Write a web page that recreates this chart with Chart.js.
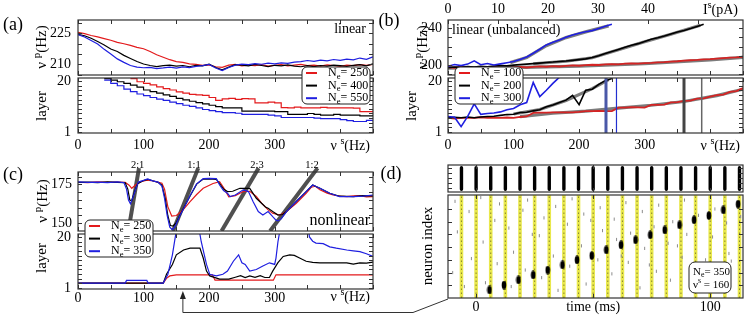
<!DOCTYPE html>
<html>
<head>
<meta charset="utf-8">
<script src="https://cdn.jsdelivr.net/npm/chart.js@4.4.1/dist/chart.umd.min.js"></script>
<style>
  html, body { margin: 0; padding: 0; background: #fff; }
  #fig { position: relative; width: 748px; height: 320px; overflow: hidden; }
  #fig canvas { position: absolute; left: 0; top: 0; }
</style>
</head>
<body>
<div id="fig"></div>
<script>
// ---- data ----
const hzGrid = [0,10,20,30,40,50,60,70,80,90,100,110,120,130,140,150,160,170,180,190,200,210,220,230,240,250,260,270,280,290,300,310,320,330,340,350,360,370,380,390,400,410,420,430,440,450];

// (a) linear
const aNe = [250, 400, 550];
const aRed = [225.4,224.8,223.9,223.2,222.4,221.6,220.6,219.9,219.1,218.2,217.5,216.2,214.6,213.4,212.2,211.3,210.9,210.2,209.9,209.5,209.7,208.8,208.5,209.6,209.9,209.2,209.6,209.3,209.8,209.1,209.5,209.8,209.2,209.6,209.9,209.3,209.6,209.1,209.7,209.4,209.0,209.6,209.3,209.8,209.5,209.9];
const aBlack = [224.5,223.8,222.6,221.0,219.3,217.4,216.2,214.3,212.8,211.3,210.1,209.4,208.9,209.3,209.6,209.1,209.4,208.8,209.5,209.2,210.0,208.4,207.3,208.6,209.8,209.6,209.2,209.9,209.4,208.9,209.5,209.2,209.7,209.1,208.8,209.3,208.9,209.4,209.1,209.6,209.3,209.0,209.5,209.8,209.2,210.2];
const aBlue = [224.3,223.2,221.5,219.8,217.2,215.0,212.6,210.9,209.4,208.6,208.3,208.5,207.9,208.2,208.6,208.1,208.7,208.4,209.0,209.3,209.9,208.2,206.9,208.4,209.6,210.1,209.8,210.3,210.0,210.5,210.2,210.7,210.4,211.0,211.3,211.8,211.4,212.0,211.6,212.3,211.9,212.5,212.1,213.0,212.4,213.6];
const aRedL = [null,null,null,null,null,null,null,null,21.0,19.8,19.2,18.6,17.9,17.2,16.7,16.0,15.5,15.1,14.9,14.7,13.9,12.8,13.4,13.6,13.2,13.5,13.4,11.9,11.9,12.2,11.9,10.1,10.0,10.3,10.0,10.0,10.0,10.2,10.0,10.0,10.0,10.0,9.9,8.6,8.6,8.9];
const aBlackL = [null,null,null,null,21.0,20.4,19.8,19.2,18.5,17.8,16.7,16.1,15.5,14.9,14.3,13.6,13.0,12.5,12.0,11.5,11.0,10.5,10.0,10.0,10.0,8.8,8.8,8.8,8.8,8.8,8.6,8.6,7.6,7.6,7.6,7.9,7.6,7.3,7.3,7.6,7.3,7.3,7.3,7.0,7.0,7.3];
const aBlueL = [null,null,null,null,20.4,19.2,18.3,17.0,16.1,15.2,14.6,13.9,13.3,12.8,12.2,11.6,11.0,10.6,10.0,9.4,9.0,8.6,8.2,8.2,8.0,7.6,7.6,7.6,7.6,7.3,7.0,6.4,6.4,6.4,6.4,6.4,6.2,6.0,6.0,6.0,5.6,5.2,4.9,4.9,5.3,5.0];

// (b) linear (unbalanced)
const bNe = [100, 200, 300];
const bRed = [197.5,196.8,197.9,197.2,196.6,197.4,196.9,197.5,197.0,196.7,197.3,197.8,197.2,197.9,198.3,198.0,198.6,198.3,199.0,199.4,199.1,199.8,200.2,199.9,200.5,200.9,200.7,201.3,201.6,201.4,202.0,202.3,202.8,203.1,203.7,204.0,204.6,205.1,205.4,206.0,206.3,206.9,207.4,207.9,208.3,208.9];
const bBlack = [197.0,197.8,197.3,198.1,197.6,198.4,198.0,198.8,199.3,199.0,199.8,200.3,200.9,201.4,202.0,202.6,203.1,203.8,204.3,205.0,205.8,206.6,208.0,210.1,212.4,214.6,216.9,219.3,221.4,223.2,225.6,227.9,229.6,231.5,233.8,235.9,237.6,239.7,242.0,244.4,null,null,null,null,null,null];
const bBlue = [198.6,200.4,199.2,200.9,204.5,200.2,201.5,199.9,201.1,202.4,203.8,205.9,208.6,212.7,217.1,221.8,224.7,227.3,230.1,232.7,234.6,236.2,237.4,239.8,242.1,244.3,null,null,null,null,null,null,null,null,null,null,null,null,null,null,null,null,null,null,null,null];
const bThRedHz = [0, 100, 200, 300, 400, 450];
const bThRed = [196.6, 197.0, 198.7, 201.3, 205.4, 208.3];
const bThBlackHz = [130, 180, 220, 260, 300, 340, 385];
const bThBlack = [201.3, 204.0, 207.8, 216.5, 225.2, 233.5, 243.2];
const bThBlueHz = [95, 120, 150, 180, 210, 245];
const bThBlue = [202.5, 208.0, 221.0, 229.8, 236.0, 242.6];
const bRedL = [6.3,6.0,6.3,6.3,6.3,6.5,6.3,6.3,6.3,6.4,6.3,6.6,6.8,8.1,8.2,8.2,8.3,8.3,8.3,8.3,8.5,8.8,8.8,8.9,8.8,8.8,10.1,10.1,10.3,10.2,10.1,11.1,11.1,11.2,12.1,12.2,12.6,12.7,13.5,13.6,14.2,14.8,15.0,16.0,16.3,17.4];
const bBlackL = [6.3,6.5,6.3,6.6,6.3,6.6,6.8,6.9,7.2,7.5,7.6,8.3,8.4,8.9,9.3,10.4,11.1,12.0,12.9,14.7,11.2,16.6,17.0,18.8,20.2,21.0,null,null,null,null,null,null,null,null,null,null,null,null,null,null,null,null,null,null,null,null];
const bBlueL = [6.8,6.5,3.0,6.8,11.5,7.6,7.9,8.1,8.5,9.3,9.8,11.2,12.0,19.5,14.2,16.6,19.2,21.5,null,null,null,null,null,null,null,null,null,null,null,null,null,null,null,null,null,null,null,null,null,null,null,null,null,null,null,null];
const bThRedLHz = [110, 160, 210, 260, 310, 360, 410, 450];
const bThRedL = [6.7, 8.0, 8.8, 9.9, 11.0, 12.4, 14.6, 17.0];
const bThBlackLHz = [100, 140, 180, 220, 245];
const bThBlackL = [7.7, 9.4, 12.8, 17.2, 20.6];
const bVertHz = [241, 257, 360, 387];

// (c) nonlinear
const cNe = [250, 300, 350];
const cRedHz = [0,15,30,45,60,72,78,82,88,95,105,112,120,128,132,137,143,150,160,171,181,191,206,216,222,230,240,252,262,272,280,290,297,308,318,333,348,356,362,369,380,389,400,410,420,430,440,450];
const cRed = [176.4,176.2,176.6,176.3,176.5,176.3,174.5,172.5,174.8,176.6,177.8,177.5,176.6,175.8,172.0,160.7,154.6,155.0,158.5,163.9,168.5,172.5,175.6,176.8,173.0,167.0,167.8,170.4,170.6,167.2,162.9,158.6,156.4,155.3,157.5,162.9,169.3,173.2,173.8,171.5,169.4,168.2,167.5,167.2,167.6,167.8,167.0,167.2];
const cBlackHz = [0,15,30,45,60,72,76,79,82,86,91,100,107,115,122,128,133,137,141,145,150,160,171,181,191,200,211,216,222,228,236,247,262,272,280,286,290,297,305,312,318,333,348,358,369,384,399,420,435,450];
const cBlack = [176.3,176.5,176.2,176.6,176.3,176.1,172.0,165.0,164.5,170.0,175.5,177.5,178.3,177.2,176.4,174.5,166.0,155.0,148.5,148.2,150.4,158.8,167.5,175.2,178.4,178.5,178.3,175.6,172.0,170.4,170.6,172.5,172.5,166.1,162.9,160.5,159.6,157.5,155.3,155.6,157.5,164.0,170.4,174.6,172.5,169.3,167.4,167.2,167.8,167.6];
const cBlueHz = [0,15,30,45,60,70,74,77,80,84,88,92,100,106,114,122,128,132,136,140,144,148,155,161,171,181,191,200,211,216,222,228,232,240,252,260,267,275,282,290,297,302,305,310,318,333,348,358,369,384,399,420,435,450];
const cBlue = [176.6,176.3,176.5,176.2,176.6,176.2,172.0,165.0,162.5,167.0,172.0,176.5,177.6,178.6,177.3,176.5,174.0,166.0,155.0,147.5,145.8,147.8,154.5,159.3,167.9,175.4,178.7,178.9,178.7,174.6,171.0,169.3,167.2,168.2,171.5,170.4,164.0,157.5,155.3,157.5,154.2,152.0,151.5,152.8,157.5,164.0,170.4,174.6,172.5,169.3,167.2,167.2,167.5,168.2];
const cRedLHz = [0,130,135,140,150,205,209,298,302,450];
const cRedL = [2.8,2.8,4.6,5.5,5.9,5.9,3.9,3.9,5.9,5.9];
const cBlackLHz = [0,130,135,144,150,161,171,186,191,196,201,216,230,240,248,255,262,270,278,285,292,297,305,313,323,330,338,348,358,369,390,410,420,430,440,450];
const cBlackL = [2.8,2.8,6.1,9.8,13.4,15.2,15.9,15.9,12.2,7.3,5.5,4.3,4.3,5.0,5.6,4.9,5.5,5.0,5.6,4.9,4.9,7.3,10.5,12.8,13.4,13.2,12.2,11.0,10.6,10.4,10.4,10.4,9.9,10.4,10.3,10.7];
const cBlueLHz = [0,72,74,105,107,130,137,144,150,185,188,196,201,211,221,228,237,245,250,255,262,272,282,292,300,302,305,308,352,353,358,363,374,384,394,410,420,430,440,450];
const cBlueL = [2.8,2.8,3.8,3.8,2.8,2.8,6.0,13.4,22.5,22.5,18.3,9.8,6.1,5.5,6.1,7.3,11.0,13.4,10.4,9.8,7.3,7.9,9.2,10.4,9.8,12.2,18.3,22.5,22.5,20.1,18.5,17.8,17.6,16.4,15.9,15.2,14.9,14.6,13.8,12.8];
const cRatioNames = ['2:1', '1:1', '2:3', '1:2'];
const cRatioBotHz = [76.8, 145, 219, 293];
const cRatioTopHz = [93, 183.4, 275.5, 365.5];
const cRatioSpan = [145, 185.5];
const cRatioLabelHz = [91, 177, 273, 357];

// (d) raster, Ne = 350, nu_s = 160
const dNe = 350, dNuS = 160;
const dBands = [-6.25,0,6.25,12.5,18.75,25,31.25,37.5,43.75,50,56.25,62.5,68.75,75,81.25,87.5,93.75,100,106.25,112.5];
const dStripSpan = [0.1, 0.9];
const dBlobT = [5.7,11.9,18.1,24.4,30.6,36.9,43.1,49.4,55.6,61.9,68.1,74.4,80.6,86.9,93.1,99.4,105.6,111.9];
const dBlobY = [0.63,1.02,1.42,1.81,2.20,2.60,2.99,3.33,3.78,4.17,4.57,4.96,5.35,5.75,6.14,6.48,6.93,7.38];
const dNoiseT = [-10,-9,-8,-5,-3,-2,2,3,4,8,9,10,14,15,16,20,21,22,24,27,28,29,33,34,35,37,39,40,41,45,46,47,49,52,53,54,58,59,60,62,64,65,66,70,71,72,74,76,77,78,82,83,84,86,88,89,90,94,95,96,98,101,102,103,107,108,109,113];
const dNoiseY = [2.0,7.6,5.2,0.9,6.8,3.1,7.9,4.4,1.2,6.1,2.7,7.4,5.5,0.9,3.6,6.9,2.2,7.7,5.0,4.9,1.6,6.3,3.3,7.2,0.6,2.9,5.8,2.5,7.8,4.1,6.6,1.1,6.1,3.0,7.1,5.3,1.9,6.2,4.6,3.3,7.5,2.8,5.1,0.8,6.8,3.9,2.6,5.6,2.1,7.3,4.3,1.4,6.0,4.1,3.2,7.7,5.0,2.4,6.5,0.7,3.0,4.8,7.0,1.8,5.9,3.5,2.9,6.4];

// tick positions / labels
const hzTicks = [0,50,100,150,200,250,300,350,400,450];
const hzLabels = [0,100,200,300];
const layerTicks = [1,2.73,4.45,6.18,7.91,9.64,11.36,13.09,14.82,16.55,18.27,20];
const aPTicks = [205,210,215,220,225,230];
const bPTicks = [190,200,210,220,230,240];
const cPTicks = [150,155,160,165,170,175,180];
const pATicks = [0,10,20,30,40,50];
const timeTicks = [0,50,100];
const stripTicks = [0.15,0.33,0.52,0.70,0.89];
const idxTicks = [1,2,3,4,5,6,7];

// ---- drawing ----
const W = 748, H = 320, YW = 40;
const FONT = "'Liberation Serif','DejaVu Serif',serif";
const RED = '#e31a1c', BLK = '#000', BLU = '#1f1fe0', GRY = '#7c7c7c';

Chart.defaults.font.family = FONT;
Chart.defaults.font.size = 14;
Chart.defaults.color = '#000';
Chart.defaults.animation = false;
Chart.defaults.events = [];
Chart.defaults.plugins.legend.display = false;
Chart.defaults.plugins.tooltip.enabled = false;
Chart.defaults.elements.point.radius = 0;
Chart.defaults.elements.line.tension = 0;

const pts = (xs, ys) => xs.map((x, i) => ({x, y: ys[i]}));
const vseg = (xs, span) => xs.flatMap(x => [{x, y: span[0]}, {x, y: span[1]}, {x, y: null}]);
const line = (data, color, w, extra) => Object.assign({data, borderColor: color, borderWidth: w, pointRadius: 0, fill: false}, extra || {});

function rich(ctx, x, y, parts, size, align, rot) {
  ctx.save();
  ctx.translate(x, y);
  if (rot) ctx.rotate(rot);
  let w = 0;
  const items = parts.map(([t, k]) => {
    const s = k ? size * 0.72 : size;
    ctx.font = s + 'px ' + FONT;
    const it = {t, k, s, off: w};
    w += ctx.measureText(t).width;
    return it;
  });
  const x0 = align === 'right' ? -w : align === 'center' ? -w / 2 : 0;
  ctx.textBaseline = 'middle';
  ctx.textAlign = 'left';
  ctx.fillStyle = '#000';
  for (const it of items) {
    ctx.font = it.s + 'px ' + FONT;
    const dy = it.k === 1 ? -size * 0.33 : it.k === -1 ? size * 0.3 : 0;
    ctx.fillText(it.t, x0 + it.off, dy);
  }
  ctx.restore();
}
const nuP = [['ν ', 0], ['p', 1], ['(Hz)', 0]];
const nuS = [['ν ', 0], ['s', 1], ['(Hz)', 0]];
const NeTxt = v => [['N', 0], ['e', -1], ['= ' + v, 0]];

function legendBox(ctx, l, t, vals) {
  const cols = [RED, BLK, BLU];
  ctx.save();
  ctx.beginPath();
  ctx.roundRect(l, t, 68, 37, 5);
  ctx.fillStyle = '#fff'; ctx.fill();
  ctx.strokeStyle = '#222'; ctx.lineWidth = 1; ctx.stroke();
  vals.forEach((v, i) => {
    const y = t + 6 + i * 12.6;
    ctx.strokeStyle = cols[i]; ctx.lineWidth = 2;
    ctx.beginPath(); ctx.moveTo(l + 4, y); ctx.lineTo(l + 15, y); ctx.stroke();
    rich(ctx, l + 26, y, NeTxt(v), 12, 'left');
  });
  ctx.restore();
}

const framePlugin = {
  id: 'frame',
  afterDatasetsDraw(chart) {
    const {ctx, chartArea: a, scales} = chart;
    const L = 4;
    ctx.save();
    ctx.strokeStyle = '#333'; ctx.lineWidth = 1;
    ctx.beginPath();
    const xs = scales.x, ys = scales.y, x2 = scales.x2;
    for (const t of xs.ticks) {
      const p = Math.round(xs.getPixelForValue(t.value)) + 0.5;
      ctx.moveTo(p, a.bottom); ctx.lineTo(p, a.bottom - L);
      if (!x2) { ctx.moveTo(p, a.top); ctx.lineTo(p, a.top + L); }
    }
    if (x2) for (const t of x2.ticks) {
      const p = Math.round(x2.getPixelForValue(t.value)) + 0.5;
      ctx.moveTo(p, a.top); ctx.lineTo(p, a.top + L);
    }
    for (const t of ys.ticks) {
      const p = Math.round(ys.getPixelForValue(t.value)) + 0.5;
      ctx.moveTo(a.left, p); ctx.lineTo(a.left + L, p);
      ctx.moveTo(a.right, p); ctx.lineTo(a.right - L, p);
    }
    ctx.stroke();
    ctx.lineWidth = 1.2;
    ctx.strokeRect(a.left, a.top, a.right - a.left, a.bottom - a.top);
    ctx.restore();
  }
};

function axis(pos, s) {
  const horiz = pos !== 'left';
  return {
    type: 'linear', position: pos, min: s.min, max: s.max,
    grid: {display: false, drawTicks: false},
    border: {display: false},
    ticks: {
      display: !!s.show, padding: s.pad ?? 6, color: '#000', font: {size: 14},
      autoSkip: false, maxRotation: 0,
      callback: v => (s.labels || []).includes(v) ? (s.fmt ? s.fmt(v) : String(v)) : ''
    },
    afterBuildTicks: sc => { sc.ticks = s.ticks.map(v => ({value: v})); },
    afterFit: sc => {
      if (horiz) sc.height = s.show ? (pos === 'top' ? 20 : 22) : 0;
      else sc.width = YW;
    }
  };
}

// datasets are listed bottom-to-top; Chart.js paints index 0 last, so reverse
function panel(rect, datasets, o, draw) {
  const cv = document.createElement('canvas');
  cv.width = W; cv.height = H;
  document.getElementById('fig').appendChild(cv);
  const scales = {x: axis('bottom', o.x), y: axis('left', o.y)};
  if (o.x2) scales.x2 = axis('top', o.x2);
  return new Chart(cv, {
    type: 'line',
    data: {datasets: datasets.slice().reverse()},
    options: {
      responsive: false,
      devicePixelRatio: 1,
      layout: {padding: {
        left: rect[0] - YW,
        top: rect[1] - (o.x2 ? 20 : 0),
        right: W - rect[2],
        bottom: H - rect[3] - (o.x.show ? 22 : 0)
      }},
      scales
    },
    plugins: [framePlugin, {id: 'deco', afterDraw: c => { if (draw) draw(c, c.ctx); }}]
  });
}

const hzU = {min: 0, max: 450, ticks: hzTicks};
const hzL = {min: 0, max: 450, ticks: hzTicks, labels: hzLabels, show: true, pad: 4};
const hzLc = {min: 0, max: 450, ticks: hzTicks, labels: hzLabels, show: true, pad: 1};
const layerAx = {min: 0.6, max: 21.2, ticks: layerTicks, labels: [1, 20], show: true, pad: 7};

// ---- (a) ----
panel([78, 78, 373, 133], [
  line(pts(hzGrid, aRedL), RED, 1.2, {stepped: true}),
  line(pts(hzGrid, aBlackL), BLK, 1.2, {stepped: true}),
  line(pts(hzGrid, aBlueL), BLU, 1.2, {stepped: true})
], {x: hzL, y: layerAx}, (c, ctx) => {
  rich(ctx, 42, 106, [['layer', 0]], 15, 'center', -Math.PI / 2);
  rich(ctx, 370, 146, nuS, 14, 'right');
});
panel([78, 20, 373, 75], [
  line(pts(hzGrid, aRed), RED, 1.2),
  line(pts(hzGrid, aBlack), BLK, 1.2),
  line(pts(hzGrid, aBlue), BLU, 1.2)
], {x: hzU, y: {min: 204.8, max: 231.4, ticks: aPTicks, labels: [210, 225], show: true, pad: 7}}, (c, ctx) => {
  rich(ctx, 13, 25, [['(a)', 0]], 18, 'center');
  rich(ctx, 366, 29, [['linear', 0]], 14, 'right');
  rich(ctx, 42, 47, nuP, 15, 'center', -Math.PI / 2);
  legendBox(ctx, 302, 67, aNe);
});

// ---- (b) ----
panel([448, 78, 743, 133], [
  line(pts(bThRedLHz, bThRedL), GRY, 3.2),
  line(pts(bThBlackLHz, bThBlackL), GRY, 3.2),
  line(pts(hzGrid, bRedL), '#d42424', 1.8),
  line(pts(hzGrid, bBlackL), BLK, 1.6),
  line(pts(hzGrid, bBlueL), BLU, 1.6),
  line(vseg([bVertHz[0]], [0, 22]), '#4a58a8', 3),
  line(vseg([bVertHz[1]], [0, 22]), '#2230d0', 1.2),
  line(vseg([bVertHz[2]], [0, 22]), '#444', 3),
  line(vseg([bVertHz[3]], [0, 22]), '#666', 1.5)
], {x: hzL, y: Object.assign({}, layerAx, {pad: 6})}, (c, ctx) => {
  rich(ctx, 412, 106, [['layer', 0]], 15, 'center', -Math.PI / 2);
  rich(ctx, 740, 146, nuS, 14, 'right');
});
panel([448, 20, 743, 75], [
  line(pts(bThRedHz, bThRed), GRY, 3.2),
  line(pts(bThBlackHz, bThBlack), GRY, 3.2),
  line(pts(bThBlueHz, bThBlue), GRY, 3.2),
  line(pts(hzGrid, bRed), '#d42424', 1.8),
  line(pts(hzGrid, bBlack), BLK, 1.6),
  line(pts(hzGrid, bBlue), BLU, 1.6)
], {
  x: hzU,
  y: {min: 189, max: 249, ticks: bPTicks, labels: [200, 240], show: true, pad: 6},
  x2: {min: 0, max: 59, ticks: pATicks, labels: [0, 10, 20, 30, 40], show: true, pad: 2}
}, (c, ctx) => {
  rich(ctx, 389, 21, [['(b)', 0]], 18, 'center');
  rich(ctx, 452, 30, [['linear (unbalanced)', 0]], 14, 'left');
  rich(ctx, 423, 47, nuP, 15, 'center', -Math.PI / 2);
  rich(ctx, 738, 10, [['I', 0], ['s', 1], ['(pA)', 0]], 14, 'right');
  legendBox(ctx, 455, 67, bNe);
});

// ---- (c) ----
panel([78, 234, 373, 289], [
  line(pts(cRedLHz, cRedL), RED, 1.2),
  line(pts(cBlackLHz, cBlackL), BLK, 1.2),
  line(pts(cBlueLHz, cBlueL), BLU, 1.2)
], {x: hzLc, y: layerAx}, (c, ctx) => {
  rich(ctx, 42, 258, [['layer', 0]], 15, 'center', -Math.PI / 2);
  rich(ctx, 370, 297, nuS, 14, 'right');
  const px = c.scales.x.getPixelForValue(dNuS);
  ctx.save();
  ctx.strokeStyle = '#333'; ctx.fillStyle = '#222'; ctx.lineWidth = 1;
  ctx.beginPath(); ctx.moveTo(px, 297); ctx.lineTo(px, 312.5); ctx.lineTo(413, 312.5); ctx.lineTo(448, 299); ctx.stroke();
  ctx.beginPath(); ctx.moveTo(px, 291); ctx.lineTo(px - 3, 299); ctx.lineTo(px + 3, 299); ctx.closePath(); ctx.fill();
  ctx.restore();
});
const ratioSets = cRatioBotHz.map((b, i) => line(pts([b, cRatioTopHz[i]], cRatioSpan), '#505050', 4, {clip: {left: 0, right: 0, bottom: 0, top: 6}}));
panel([78, 172, 373, 231], [
  ...ratioSets,
  line(pts(cRedHz, cRed), RED, 1.2),
  line(pts(cBlackHz, cBlack), BLK, 1.2),
  line(pts(cBlueHz, cBlue), BLU, 1.2)
], {x: hzU, y: {min: 145, max: 183, ticks: cPTicks, labels: [150, 175], show: true, pad: 6}}, (c, ctx) => {
  rich(ctx, 13, 175, [['(c)', 0]], 18, 'center');
  rich(ctx, 370, 221, [['nonlinear', 0]], 16, 'right');
  rich(ctx, 43, 201, nuP, 15, 'center', -Math.PI / 2);
  cRatioNames.forEach((n, i) => rich(ctx, c.scales.x.getPixelForValue(cRatioLabelHz[i]), 165, [[n, 0]], 10.5, 'center'));
  legendBox(ctx, 85, 220, cNe);
});

// ---- (d) ----
const blobImg = document.createElement('canvas');
blobImg.width = 6; blobImg.height = 9;
(() => {
  const b = blobImg.getContext('2d');
  b.fillStyle = '#000';
  b.beginPath(); b.ellipse(3, 4.5, 2.3, 4.2, 0, 0, 2 * Math.PI); b.fill();
})();
panel([448, 195, 743, 298], [
  line(vseg(dBands, [0, 8.1]), '#e9e84c', 3.6),
  line(vseg(dBands, [0, 8.1]), '#6f6d2a', 0.8, {borderDash: [1.5, 2.5]}),
  {data: pts(dNoiseT, dNoiseY), showLine: false, pointStyle: 'line', rotation: 90,
   pointRadius: 1.6, pointBorderWidth: 1, pointBorderColor: '#8c8c8c'},
  {data: pts(dBlobT, dBlobY), showLine: false, pointStyle: blobImg, pointRadius: 3}
], {
  x: {min: -12, max: 114, ticks: timeTicks, labels: [0, 50, 100], show: true, pad: 1,
      fmt: v => v === 50 ? 'time (ms)' : String(v)},
  y: {min: 0, max: 8.1, ticks: idxTicks}
}, (c, ctx) => {
  rich(ctx, 428, 246, [['neuron index', 0]], 15, 'center', -Math.PI / 2);
  ctx.save();
  ctx.beginPath(); ctx.roundRect(689, 262, 42, 31, 6);
  ctx.fillStyle = '#fff'; ctx.fill();
  ctx.strokeStyle = '#222'; ctx.lineWidth = 1; ctx.stroke();
  ctx.restore();
  rich(ctx, 693, 272, NeTxt(dNe), 11, 'left');
  rich(ctx, 693, 285, [['ν', 0], ['s', 1], [' = ' + dNuS, 0]], 11, 'left');
});
panel([448, 165, 743, 192], [
  line(vseg(dBands, dStripSpan), '#000', 3.4, {borderCapStyle: 'round'})
], {x: {min: -12, max: 114, ticks: timeTicks}, y: {min: 0, max: 1, ticks: stripTicks}}, (c, ctx) => {
  rich(ctx, 391, 174, [['(d)', 0]], 18, 'center');
});
</script>
</body>
</html>
